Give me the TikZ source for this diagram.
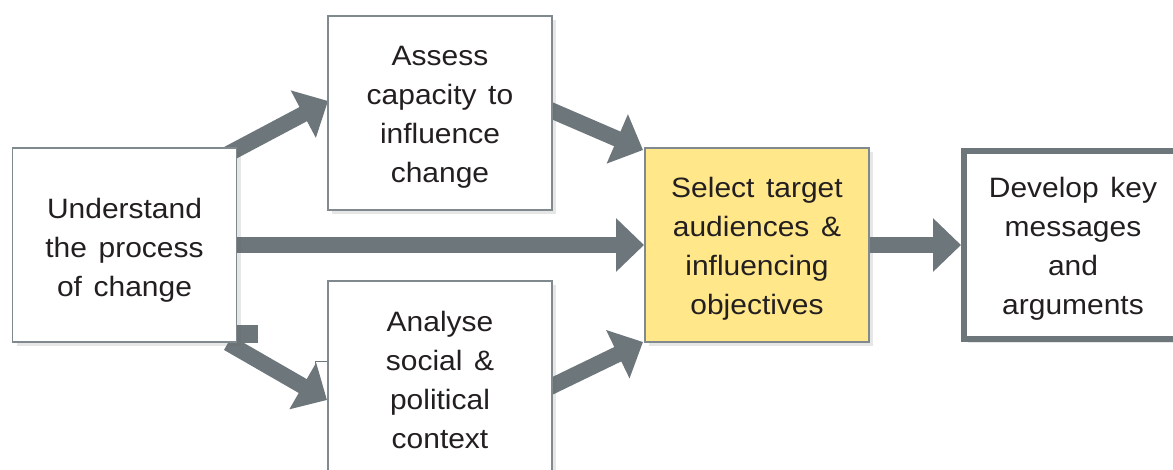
\documentclass[tikz,border=0pt]{standalone}
\usepackage{fontspec}
\setmainfont{Liberation Sans}[FakeStretch=1.07, WordSpace=1.4]
\usetikzlibrary{arrows.meta,shadows}
\definecolor{arrowgray}{HTML}{6D767B}
\definecolor{boxline}{HTML}{7F898E}
\definecolor{txt}{HTML}{231F20}
\definecolor{selyellow}{HTML}{FFE78A}
\tikzset{
  stepbox/.style={draw=boxline, line width=1.2pt, fill=white, minimum width=224pt, minimum height=194pt,
    inner sep=0pt,
    drop shadow={shadow xshift=4pt, shadow yshift=-4pt, opacity=0.16, fill=black!60}},
  steptext/.style={inner sep=0pt, align=center, text=txt, font=\fontsize{28}{39}\selectfont},
  bigarrow/.style={draw=arrowgray, line width=16pt, -{Triangle[length=28pt, width=52pt]}, fill=arrowgray},
}
\begin{document}
\begin{tikzpicture}[x=1pt, y=-1pt]
\useasboundingbox (0,0) rectangle (1173,469);
\clip (0,0) rectangle (1173,469);
\fill[white] (0,0) rectangle (1173,469);
% connector anchor points
\coordinate (s1) at (228,154);
\coordinate (s2) at (228,343);
\coordinate (s3) at (228,245);
\coordinate (s4) at (548,109);
\coordinate (s5) at (548,388);
% arrows (drawn beneath boxes)
\draw[bigarrow] (s1) -- (328,101) coordinate (t1);
\draw[bigarrow] (s2) -- (327,400) coordinate (t2);
\draw[bigarrow] (s3) -- (644,245) coordinate (t3);
\draw[bigarrow] (s4) -- (643,150) coordinate (t4);
\draw[bigarrow] (s5) -- (643,342) coordinate (t5);
\fill[arrowgray] (230,325) rectangle (258,343);
\draw[arrowgray, line width=1pt] (315,369) -- (315,361) -- (328,361);
% boxes
\node[stepbox] (und) at (124.5,245) {};
\node[stepbox] (ass) at (440,113) {};
\node[stepbox] (ana) at (440,378) {};
\node[stepbox, fill=selyellow] (sel) at (757,245) {};
\node[stepbox, draw=arrowgray, line width=6pt, minimum width=218pt, minimum height=188pt] (dev) at (1073,245) {};
% texts
\node[steptext] (undt) at ([yshift=-5pt]und.center) {Understand\\the process\\of change};
\node[steptext] (asst) at ([yshift=-4pt]ass.center) {Assess\\capacity to\\influence\\change};
\node[steptext] (anat) at ([yshift=-2pt]ana.center) {Analyse\\social \&\\political\\context};
\node[steptext] (selt) at ([yshift=-4pt]sel.center) {Select target\\audiences \&\\influencing\\objectives};
\node[steptext] (devt) at ([yshift=-4pt]dev.center) {Develop key\\messages\\and\\arguments};
\draw[bigarrow] (sel.east) -- (dev.west);
\end{tikzpicture}
\end{document}
